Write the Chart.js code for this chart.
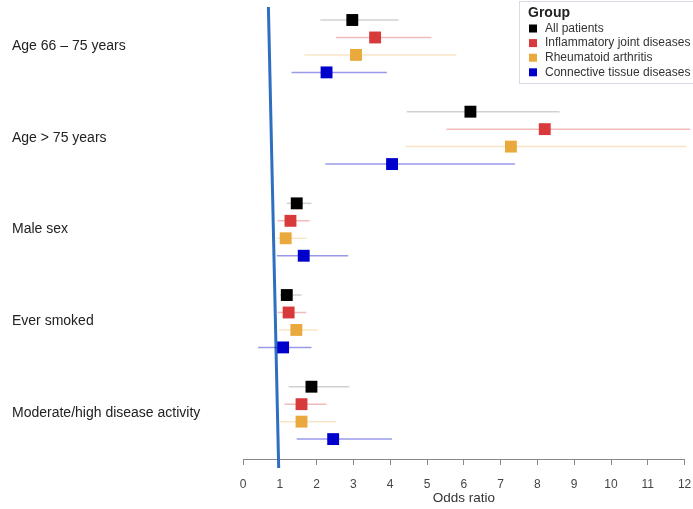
<!DOCTYPE html>
<html>
<head>
<meta charset="utf-8">
<script src="https://cdn.jsdelivr.net/npm/chart.js@4"></script>
<style>
  body { margin: 0; background: #fff; }
  #wrap { width: 693px; height: 509px; }
</style>
</head>
<body>
<div id="wrap"><canvas id="myCanvas"></canvas></div>
<script>
'use strict';

// data

const factors = ['Age 66 \u2013 75 years', 'Age > 75 years', 'Male sex', 'Ever smoked', 'Moderate/high disease activity'];
const groupNames = ['All patients', 'Inflammatory joint diseases', 'Rheumatoid arthritis', 'Connective tissue diseases'];
const xTicks = [0, 1, 2, 3, 4, 5, 6, 7, 8, 9, 10, 11, 12];

const allOR = [2.97, 6.18, 1.46, 1.19, 1.86];
const allLow = [2.1, 4.45, 1.19, 1.0, 1.24];
const allHigh = [4.23, 8.6, 1.86, 1.59, 2.89];

const ijdOR = [3.59, 8.2, 1.29, 1.24, 1.59];
const ijdLow = [2.53, 5.53, 0.94, 0.94, 1.13];
const ijdHigh = [5.12, 12.15, 1.81, 1.72, 2.27];

const raOR = [3.07, 7.28, 1.16, 1.45, 1.59];
const raLow = [1.67, 4.42, 0.92, 0.98, 1.0];
const raHigh = [5.8, 12.05, 1.72, 2.02, 2.53];

const ctdOR = [2.27, 4.05, 1.65, 1.09, 2.45];
const ctdLow = [1.32, 2.24, 0.92, 0.41, 1.46];
const ctdHigh = [3.91, 7.39, 2.86, 1.86, 4.05];

// reference line (slightly slanted in the original)
const refLineX = [0.69, 0.97];

const colors = ['#000000', '#d8393b', '#e9a93c', '#0000cc'];
const ciColors = ['rgba(0,0,0,0.18)', 'rgba(216,57,59,0.35)', 'rgba(233,169,60,0.3)', 'rgba(0,0,204,0.4)'];

const orList = [allOR, ijdOR, raOR, ctdOR];
const lowList = [allLow, ijdLow, raLow, ctdLow];
const highList = [allHigh, ijdHigh, raHigh, ctdHigh];

const groupGap = 5.25;
const fontFamily = '"Liberation Sans", Arial, sans-serif';

function rowPos(f, g) {
  return f * groupGap + g;
}

let datasets = [];

datasets.push({
  type: 'line',
  label: 'ref',
  data: [{x: refLineX[0], y: -0.74}, {x: refLineX[1], y: rowPos(4, 3) + 1.66}],
  borderColor: '#2f6fc0',
  borderWidth: 3,
  pointRadius: 0,
  clip: false,
  order: 3
});

for (let g = 0; g < groupNames.length; g++) {
  for (let f = 0; f < factors.length; f++) {
    datasets.push({
      type: 'line',
      label: 'ci',
      data: [{x: lowList[g][f], y: rowPos(f, g)}, {x: highList[g][f], y: rowPos(f, g)}],
      borderColor: ciColors[g],
      borderWidth: 1.5,
      pointRadius: 0,
      clip: false,
      order: 2
    });
  }
  datasets.push({
    type: 'scatter',
    label: groupNames[g],
    data: orList[g].map((v, f) => ({x: v, y: rowPos(f, g)})),
    backgroundColor: colors[g],
    borderWidth: 0,
    pointStyle: 'rect',
    pointRadius: 8.4,
    clip: false,
    order: 1
  });
}

const legendBox = {
  id: 'legendBox',
  afterDraw(chart) {
    const ctx = chart.ctx;
    ctx.save();
    ctx.strokeStyle = '#d6dbe6';
    ctx.lineWidth = 1;
    ctx.fillStyle = '#fff';
    ctx.fillRect(519.5, 1.5, 180, 82);
    ctx.strokeRect(519.5, 1.5, 180, 82);
    ctx.fillStyle = '#222';
    ctx.textBaseline = 'middle';
    ctx.font = 'bold 14px ' + fontFamily;
    ctx.fillText('Group', 528, 13);
    ctx.font = '12px ' + fontFamily;
    for (let g = 0; g < groupNames.length; g++) {
      let y = 28.5 + g * 14.6;
      ctx.fillStyle = colors[g];
      ctx.fillRect(529, y - 4, 8, 8);
      ctx.fillStyle = '#333';
      ctx.fillText(groupNames[g], 545, y);
    }
    ctx.restore();
  }
};

const config = {
  type: 'scatter',
  data: { datasets: datasets },
  options: {
    animation: false,
    responsive: true,
    maintainAspectRatio: false,
    layout: { padding: { top: 9, right: 1, bottom: 3, left: 12 } },
    plugins: {
      legend: { display: false },
      tooltip: { enabled: false }
    },
    scales: {
      x: {
        type: 'linear',
        min: 0,
        max: 12,
        afterBuildTicks: (scale) => { scale.ticks = xTicks.map(v => ({value: v})); },
        afterFit: (scale) => { scale.height = 47; },
        ticks: {
          color: '#444',
          font: { size: 12, family: fontFamily },
          padding: 0,
          maxRotation: 0
        },
        // long tick length keeps the labels low, the dash keeps the visible mark short
        grid: { drawOnChartArea: false, tickLength: 18, tickBorderDash: [5, 40], color: '#888' },
        border: { display: true, color: '#888' },
        title: {
          display: true,
          text: 'Odds ratio',
          color: '#333',
          font: { size: 13.5, family: fontFamily },
          padding: 0
        }
      },
      y: {
        type: 'linear',
        reverse: true,
        min: -0.63,
        max: 25.14,
        afterBuildTicks: (scale) => { scale.ticks = factors.map((f, i) => ({value: rowPos(i, 1.5)})); },
        afterFit: (scale) => { scale.width = 231; },
        ticks: {
          callback: (v, i) => factors[i],
          crossAlign: 'far',
          color: '#222',
          padding: 0,
          font: { size: 14, family: fontFamily }
        },
        grid: { display: false },
        border: { display: false }
      }
    }
  },
  plugins: [legendBox]
};

const myChart = new Chart(document.getElementById('myCanvas'), config);
</script>
</body>
</html>
